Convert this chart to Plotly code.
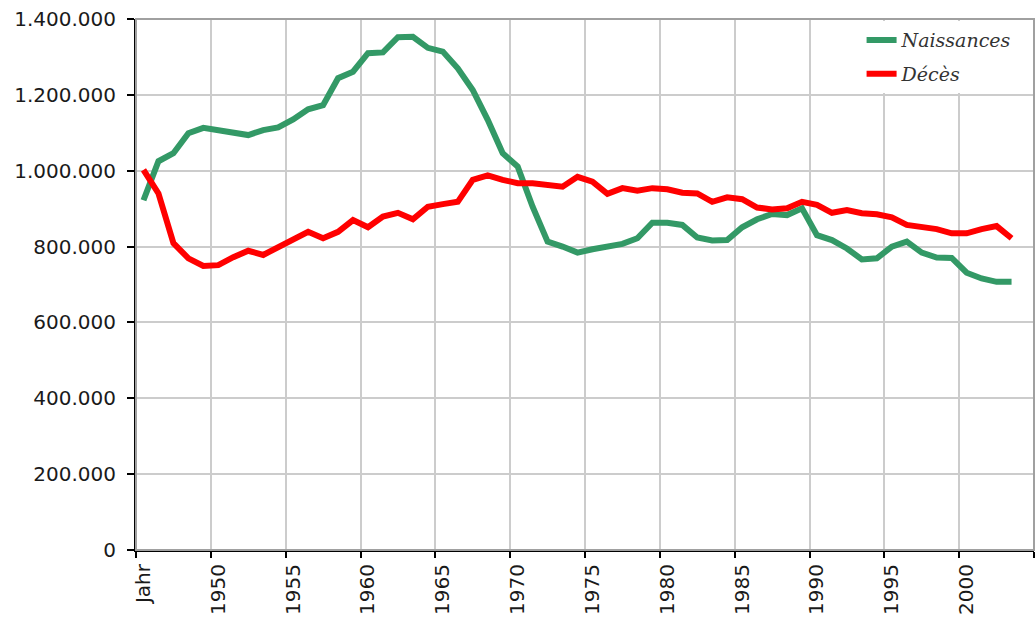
import plotly.graph_objects as go

categories = ["Jahr"] + [str(y) for y in range(1946, 2004)]

naissances = [922000, 1025000, 1046000, 1099000, 1113000, 1107000, 1103000, 1094000, 1107000, 1114000,
              1135000, 1162000, 1173000, 1244000, 1261000, 1310000, 1312000, 1352000, 1353000, 1324000,
              1314000, 1270000, 1213000, 1134000, 1046000, 1011000, 905000, 813000, 800000, 784000,
              793000, 800000, 807000, 822000, 863000, 863000, 857000, 824000, 816000, 817000,
              851000, 872000, 886000, 883000, 901000, 830000, 817000, 795000, 766000, 769000,
              800000, 813000, 784000, 771000, 770000, 731000, 716000, 707000, 707000]

deces = [1002000, 940000, 809000, 769000, 749000, 751000, 772000, 789000, 778000, 797000,
         816000, 839000, 822000, 839000, 870000, 851000, 879000, 889000, 872000, 905000,
         912000, 918000, 976000, 988000, 976000, 967000, 967000, 962000, 958000, 984000,
         971000, 939000, 954000, 947000, 954000, 951000, 942000, 940000, 918000, 930000,
         925000, 903000, 898000, 901000, 918000, 910000, 889000, 896000, 888000, 885000,
         877000, 857000, 852000, 846000, 835000, 835000, 846000, 854000, 822000]

y_ticks = [0, 200000, 400000, 600000, 800000, 1000000, 1200000, 1400000]

fig = go.Figure()
fig.add_trace(go.Scatter(x=categories, y=naissances, mode="lines", name="Naissances",
                         line=dict(color="#339966", width=6), legendgroup="a"))
fig.add_trace(go.Scatter(x=categories, y=deces, mode="lines", name="Décès",
                         line=dict(color="#ff0000", width=6), legendgroup="b"))

tickfont = dict(family="DejaVu Sans", size=20, color="#1a1a1a")

fig.update_layout(
    width=1036, height=617,
    margin=dict(l=136, r=2, t=19, b=67),
    paper_bgcolor="white", plot_bgcolor="white",
    separators=",.",
    showlegend=True,
    legend=dict(x=0.808, y=0.996, xanchor="left", yanchor="top",
                bgcolor="white", borderwidth=0,
                font=dict(family="DejaVu Serif", size=19, color="#333333", style="italic"),
                tracegroupgap=6, itemwidth=30),
    xaxis=dict(type="category", categoryorder="array", categoryarray=categories,
               range=[-0.5, 59.5], tickmode="linear", tick0=0, dtick=5,
               tickson="boundaries", ticks="outside", ticklen=6, tickcolor="black", tickwidth=2,
               tickangle=-90, tickfont=tickfont, ticklabelstandoff=4, automargin=False,
               ticklabeloverflow="allow",
               showgrid=True, gridcolor="#cccccc", gridwidth=2,
               showline=True, linecolor="black", linewidth=2, zeroline=False),
    yaxis=dict(range=[0, 1400000], tickvals=y_ticks, tickformat=",d",
               ticks="outside", ticklen=7, tickcolor="black", tickwidth=2, tickfont=tickfont,
               ticklabelstandoff=7, automargin=False, ticklabeloverflow="allow",
               showgrid=True, gridcolor="#cccccc", gridwidth=2,
               showline=True, linecolor="black", linewidth=2, zeroline=False),
    shapes=[dict(type="rect", xref="paper", yref="paper", x0=0, x1=1, y0=0, y1=1,
                 line=dict(color="#a0a0a0", width=2), layer="above")],
)

# remove the default page margin so the figure fills the 1036x617 window exactly
fig.write_html("out.html", config={"displayModeBar": False},
               post_script="document.body.style.margin='0';document.body.style.overflow='hidden';")
